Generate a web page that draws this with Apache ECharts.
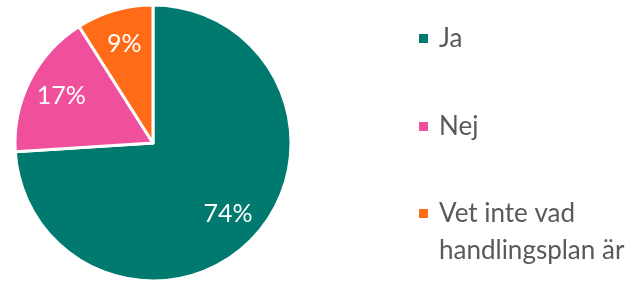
<!DOCTYPE html>
<html>
<head>
<meta charset="utf-8">
<script src="https://cdn.jsdelivr.net/npm/echarts@6/dist/echarts.min.js"></script>
<style>
  html, body { margin: 0; padding: 0; background: #fff; }
  #chart { width: 636px; height: 283px; }
</style>
</head>
<body>
<div id="chart"></div>
<script>
// svar och andelar (%)
var names = ['Ja', 'Nej', 'Vet inte vad\nhandlingsplan är'];
var values = [74, 17, 9];
var colors = ['#00796F', '#EF4F9B', '#FF6B17'];

var font = 'Lato, "Open Sans", sans-serif';

var pieData = names.map(function (n, i) {
  return { name: n, value: values[i], itemStyle: { color: colors[i] } };
});

var chart = echarts.init(document.getElementById('chart'));

// en legend per post, så att varje rad kan placeras fritt
function legendFor(i, top, fmt) {
  return {
    orient: 'vertical',
    left: 417,
    top: top,
    padding: 0,
    icon: 'rect',
    itemWidth: 11,
    itemHeight: 11,
    selectedMode: false,
    data: [names[i]],
    formatter: fmt,
    textStyle: {
      fontFamily: font,
      fontSize: 26,
      lineHeight: 37,
      color: '#595959',
      padding: [0, 0, 0, 5]
    }
  };
}

chart.setOption({
  animation: false,
  legend: [
    legendFor(0, 20, '{name}'),
    legendFor(1, 108, '{name}'),
    // tom första rad: markören hamnar vid textens första rad
    legendFor(2, 158, '\n{name}')
  ],
  series: [
    {
      type: 'pie',
      center: [153, 143],
      radius: 138,
      startAngle: 90,
      clockwise: true,
      silent: true,
      label: { show: false },
      labelLine: { show: false },
      itemStyle: { borderColor: '#fff', borderWidth: 3 },
      data: pieData
    },
    {
      // osynlig ring som bara bär etiketterna
      type: 'pie',
      center: [153, 143],
      radius: [62, 138],
      startAngle: 90,
      clockwise: true,
      silent: true,
      itemStyle: { color: 'rgba(0,0,0,0)', borderWidth: 0 },
      label: {
        show: true,
        position: 'inside',
        formatter: '{c}%',
        color: '#fff',
        fontFamily: font,
        fontSize: 25
      },
      labelLine: { show: false },
      data: pieData.map(function (d) {
        return { name: d.name, value: d.value, itemStyle: { color: 'rgba(0,0,0,0)' } };
      })
    }
  ]
});
</script>
</body>
</html>
